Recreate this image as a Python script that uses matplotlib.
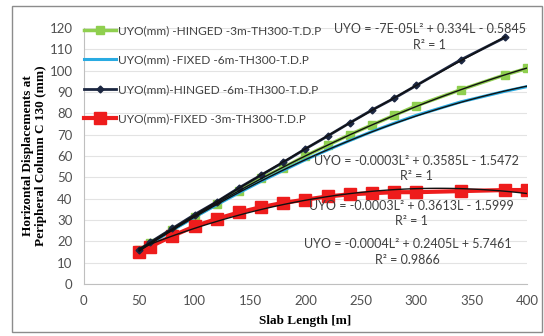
import numpy as np
import matplotlib.pyplot as plt
from matplotlib.patches import Rectangle

# slab length [m]
length = [50, 60, 80, 100, 120, 140, 160, 180, 200, 220, 240, 260, 280, 300, 340, 380, 400]
length_h6 = [50, 60, 80, 100, 120, 140, 160, 180, 200, 220, 240, 260, 280, 300, 340, 380]

hinged_3m = [16, 19, 25.5, 31.5, 37.5, 43.5, 49.5, 54.5, 60, 65, 70, 74.5, 79, 83.5, 91, 98, 101]
fixed_6m = [15.6, 18.8, 25.2, 31.3, 37.1, 42.7, 48.1, 53.2, 58.2, 62.8, 67.2, 71.4, 75.3, 79, 85.3, 90.3, 92.5]
hinged_6m = [16, 19.5, 26, 32.5, 38.5, 45, 51, 57, 63.3, 69.3, 75.5, 81.5, 87, 93, 105, 115.5]
fixed_3m = [15, 17.5, 22.5, 27, 30.5, 33.5, 36, 38, 39.5, 41, 42, 42.5, 43, 43, 43.5, 44, 44]

labels = ["UYO(mm) -HINGED -3m-TH300-T.D.P", "UYO(mm) -FIXED -6m-TH300-T.D.P",
          "UYO(mm)-HINGED -6m-TH300-T.D.P", "UYO(mm)-FIXED -3m-TH300-T.D.P"]

eq_texts = ["UYO = -7E-05L² + 0.334L - 0.5845\nR² = 1",
            "UYO = -0.0003L² + 0.3585L - 1.5472\nR² = 1",
            "UYO = -0.0003L² + 0.3613L - 1.5999\nR² = 1",
            "UYO = -0.0004L² + 0.2405L + 5.7461\nR² = 0.9866"]
eq_pos = [(312, 115.8), (300, 54.1), (296, 33.0), (292, 15.0)]

plt.rcParams['font.family'] = ['Lato', 'DejaVu Sans']

fig = plt.figure(figsize=(5.44, 3.36), dpi=100)
ax = fig.add_axes([0.154, 0.155, 0.815, 0.762])

fig.patches.append(Rectangle((0.022, 0.012), 0.974, 0.970, transform=fig.transFigure,
                             fill=False, edgecolor='#8c8c8c', linewidth=1.0))

ax.plot(length, hinged_3m, color='#8fcf4f', lw=2.5, marker='s', ms=6, label=labels[0], zorder=3)
ax.plot(length, fixed_6m, color='#29abe2', lw=2.2, label=labels[1], zorder=3)
ax.plot(length_h6, hinged_6m, color='#1c2741', lw=2.0, marker='D', ms=3.5, label=labels[2], zorder=4)
ax.plot(length, fixed_3m, color='#ee1c1c', lw=3.0, marker='s', ms=8, label=labels[3], zorder=3)

# polynomial trendlines (order 2)
for xs, ys in [(length, hinged_3m), (length, fixed_6m), (length_h6, hinged_6m), (length, fixed_3m)]:
    c = np.polyfit(xs, ys, 2)
    xx = np.linspace(min(xs), max(xs), 100)
    ax.plot(xx, np.polyval(c, xx), color='#111111', lw=1.0, zorder=5)

for t, (x, y) in zip(eq_texts, eq_pos):
    ax.text(x, y, t, ha='center', va='center', fontsize=9, color='#404040',
            linespacing=1.35, zorder=6)

ax.set_xlim(0, 400)
ax.set_ylim(0, 120)
ax.set_xticks(range(0, 401, 50))
ax.set_yticks(range(0, 121, 10))
ax.tick_params(length=0, labelsize=9.5, labelcolor='#505050', pad=8)
ax.grid(axis='y', color='#e3e3e3', linewidth=0.8)
ax.set_axisbelow(True)
for s in ['top', 'right']:
    ax.spines[s].set_visible(False)
for s in ['left', 'bottom']:
    ax.spines[s].set_color('#bfbfbf')

ax.set_xlabel("Slab Length [m]", family='Liberation Serif', fontweight='bold', fontsize=9.5, labelpad=6)
ax.set_ylabel("Horizontal Displacements at\nPeripheral Column C 130 (mm)", family='Liberation Serif',
              fontweight='bold', fontsize=9.5, labelpad=2, linespacing=1.1)

ax.legend(loc='upper left', bbox_to_anchor=(0.0, 1.012), frameon=False, fontsize=8.6,
          handlelength=2.7, handletextpad=0.2, labelspacing=1.55, borderaxespad=0.0,
          borderpad=0.0, labelcolor='#404040')

fig.savefig('out.png', dpi=100)
